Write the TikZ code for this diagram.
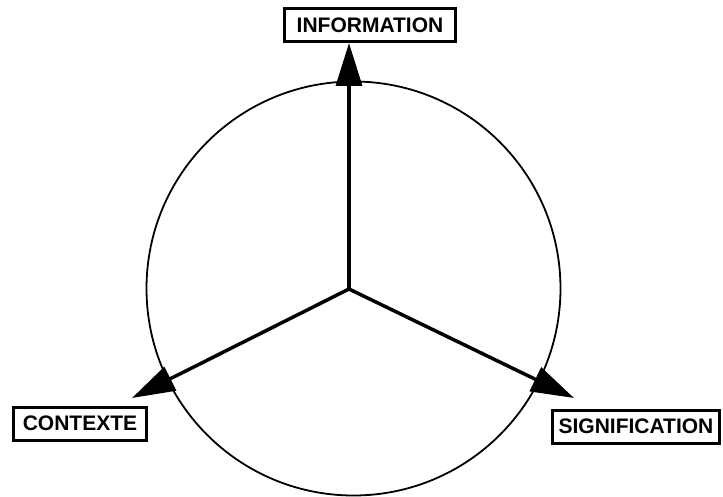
\documentclass[tikz,border=0pt]{standalone}
\usepackage{fontspec}
\setmainfont{Liberation Sans}
\usetikzlibrary{arrows.meta}
\usetikzlibrary{positioning}
\tikzset{labelbox/.style = {draw, line width=3pt, inner xsep=2pt,
                            minimum height=33pt, minimum width=#1,
                            font=\fontsize{21}{25}\selectfont\bfseries}}
\tikzset{spoke/.style = {line width=3.5pt,
                         -{Triangle[length=43pt,width=26pt]}}}
\tikzset{
  every picture/.style={
    x=1pt, y=-1pt,
  }
}

\begin{document}
\begin{tikzpicture}
        \useasboundingbox (0,0) rectangle (723,497);
        \draw[line width=1.8pt] (353.5,288.5) circle (207);
        \coordinate (c) at (349,289);
        \coordinate (tipl) at (132,398);
        \coordinate (tipr) at (574,398);
        \node[labelbox=171pt] (info) at (370,25) {INFORMATION};
        \node[labelbox=133pt] (ctx) at (80,423.5) {CONTEXTE};
        \node[labelbox=167pt] (sig) at (636,426.5) {SIGNIFICATION};
        \draw[spoke] (c) -- (c |- info.south);
        \draw[spoke] (c) -- (tipl);
        \draw[spoke] (c) -- (tipr);
    \end{tikzpicture}
\end{document}
